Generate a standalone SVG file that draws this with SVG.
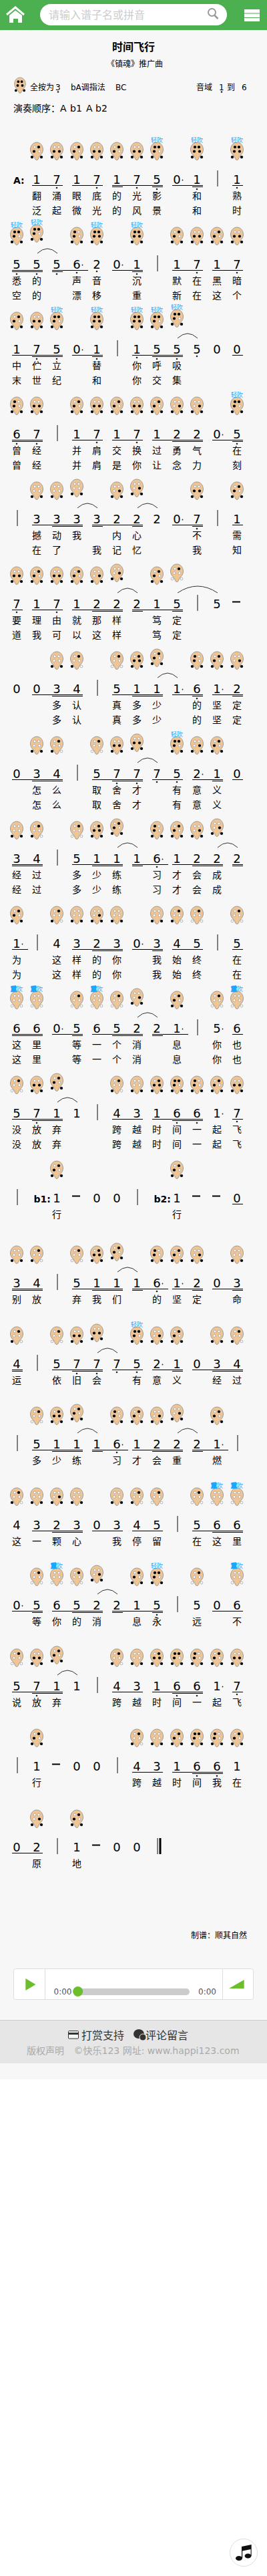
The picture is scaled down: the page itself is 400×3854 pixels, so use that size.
<svg xmlns="http://www.w3.org/2000/svg" width="400" height="3854" viewBox="0 0 400 3854">
<style>
text{font-family:"DejaVu Sans","Noto Sans CJK SC",sans-serif;fill:#000}
.n{font-size:18px;text-anchor:middle}
.l{font-size:14px;text-anchor:middle}
.lab{font-size:14px;font-weight:bold}
.q{font-size:9px;text-anchor:middle;fill:#1aa7ff}
.h{stroke:#1aa7ff;stroke-width:1.2px}
.u{stroke:#000;stroke-width:1;fill:none}
.dot{stroke:#222;stroke-width:2.6;stroke-linecap:round;fill:none}
.aug{stroke:#222;stroke-width:1.8;stroke-linecap:round;fill:none}
.bar{stroke:#808080;stroke-width:2;fill:none}
.dash{stroke:#000;stroke-width:2;fill:none}
.k{stroke:#000;stroke-width:4.2;stroke-linecap:round;fill:none}
.w{fill:#fff;stroke:#888;stroke-width:.6}
.s{font-size:12px}
.f{font-size:14px;fill:#aaa}
.g{font-size:16px;fill:#333}
.t{font-size:12px;fill:#555}
</style>
<defs>
<g id="o"><path d="M0 0C5.500 0 9.500 5 9.500 11C9.500 16 6 18.500 4 21C3 22.500 2.500 26.500 0 26.500C-2.500 26.500 -3 22.500 -4 21C-6 18.500 -9.500 16 -9.500 11C-9.500 5 -5.500 0 0 0Z" fill="#efc595" stroke="#888" stroke-width=".8"/><circle class="w" cx="-3" cy="7" r="1.900"/><circle class="w" cx="3" cy="7" r="1.900"/><circle class="w" cx="-4" cy="13.500" r="1.900"/><circle class="w" cx="4" cy="13.500" r="1.900"/><circle class="w" cx="-7" cy="22" r="1.900"/><circle class="w" cx="7" cy="22" r="1.900"/></g>
<g id="n1"><use href="#o"/><path class="k" d="M3 7h0M-4 13.500h0M-7 22h0M7 22h0"/></g>
<g id="n1h"><use href="#o"/><path class="k" d="M3 7h0M-4 13.500h0M4 13.500h0M-7 22h0M7 22h0"/></g>
<g id="l7"><use href="#o"/><path class="k" d="M-4 13.500h0M4 13.500h0M-7 22h0M7 22h0"/></g>
<g id="l6"><use href="#o"/><path class="k" d="M-3 7h0M-4 13.500h0M-7 22h0M7 22h0"/></g>
<g id="l5"><use href="#o"/><path class="k" d="M-3 7h0M3 7h0M-4 13.500h0M-7 22h0M7 22h0"/></g>
<g id="l1"><use href="#o"/><path class="k" d="M-3 7h0M3 7h0M-4 13.500h0M4 13.500h0M-7 22h0M7 22h0"/></g>
<g id="n2"><use href="#o"/><path class="k" d="M4 13.500h0M-7 22h0M7 22h0"/></g>
<g id="n3"><use href="#o"/><path class="k" d="M-7 22h0M7 22h0"/></g>
<g id="n4"><use href="#o"/><path class="k" d="M3 7h0M-7 22h0"/></g>
<g id="n5"><use href="#o"/><path class="k" d="M3 7h0"/></g>
<g id="n6"><use href="#o"/></g>
<path id="z" d="M1 39Q16 25 31 39" fill="none" stroke="#333" stroke-width="1"/>
</defs>
<rect width="400" height="3854" fill="#fff"/>
<rect y="45" width="400" height="3066" fill="#f7f7f7"/>
<g id="header">
<rect width="400" height="45" fill="#4caf50"/>
<path d="M10 22L23 11L36 22" fill="none" stroke="#fff" stroke-width="3"/>
<path d="M14 23L23 15.500L33 23V34H27V28H20V34H14Z" fill="#fff"/>
<rect x="60" y="6" width="280" height="32" rx="16" fill="#fff"/>
<text x="73" y="28" style="font-size:16px;fill:#ccc">请输入谱子名或拼音</text>
<circle cx="317.500" cy="18.500" r="5.500" fill="none" stroke="#999" stroke-width="2"/>
<path d="M321.500 23L326.500 28" stroke="#999" stroke-width="2.500"/>
<path d="M366 14H389V19.500H366ZM366 20.500H389V26H366ZM366 27H389V32H366Z" fill="#fff"/>
</g>
<g id="info">
<text x="200" y="76" text-anchor="middle" style="font-size:16px;font-weight:bold">时间飞行</text>
<text x="202" y="100" text-anchor="middle" style="font-size:12px">《镇魂》推广曲</text>
<use href="#l1" transform="translate(30,116) scale(.88)"/>
<text class="s" x="45" y="135">全按为</text><text class="s" x="83" y="135">3</text><path class="dot" d="M87 137.500h0"/>
<text class="s" x="106" y="135">bA调指法</text><text class="s" x="173" y="135">BC</text>
<text class="s" x="294" y="135">音域</text><text class="s" x="328" y="135">1</text><path class="dot" d="M332 137.500h0"/>
<text class="s" x="340" y="135">到</text><text class="s" x="362" y="135">6</text>
<text x="20" y="167" style="font-size:14px">演奏顺序：</text>
<text x="90" y="167" style="font-size:14px">A</text><text x="105" y="167" style="font-size:14px">b1</text><text x="129" y="167" style="font-size:14px">A</text><text x="143" y="167" style="font-size:14px">b2</text>
</g>
<g id="r1" transform="translate(0,213)">
<use href="#n1" x="55"/><use href="#l7" x="85"/><use href="#n1" x="115"/><use href="#l7" x="145"/><use href="#n1" x="175"/><use href="#l7" x="205"/><use href="#l5" x="235"/><use href="#l1" x="295"/><use href="#l1" x="355"/>
<text class="q" x="235" y="0">轻吹</text><text class="q" x="295" y="0">轻吹</text><text class="q" x="355" y="0">轻吹</text>
<text class="lab" x="20" y="62">A:</text>
<text class="n" y="62" x="55 85 115 145 175 205 235 265 295 355">1717175011</text>
<path class="aug" d="M273.500 56.500h0"/>
<path class="u" d="M48 64.500H94M108 64.500H154M168 64.500H244M258 64.500H304M348 64.500H364M168 66.500H184M228 66.500H244M288 66.500H304"/>
<path class="dot" d="M85 68h0M145 68h0M205 68h0M355 68h0M235 70h0M295 70h0"/>
<path class="bar" d="M326 42v24"/>
<text class="l" y="85" x="55 85 115 145 175 205 235 295 355">翻涌眼底的光影和熟</text>
<text class="l" y="107" x="55 85 115 145 175 205 235 295 355">泛起微光的风景和时</text>
</g>
<g id="r2" transform="translate(0,340)">
<use href="#l5" x="25"/><use href="#l5" x="55" y="-4"/><use href="#l6" x="115"/><use href="#l1" x="145"/><use href="#l1" x="205"/><use href="#n1" x="265"/><use href="#l7" x="295"/><use href="#n1" x="325"/><use href="#l7" x="355"/>
<text class="q" x="25" y="0">轻吹</text><text class="q" x="55" y="-4">轻吹</text><text class="q" x="145" y="0">轻吹</text><text class="q" x="205" y="0">轻吹</text>
<use href="#z" x="55"/>
<text class="n" y="62" x="25 55 85 115 145 175 205 265 295 325 355">55562011717</text>
<path class="aug" d="M123.500 56.500h0M183.500 56.500h0"/>
<path class="u" d="M18 64.500H64M78 64.500H132M168 64.500H214M258 64.500H304M318 64.500H364M18 66.500H64M78 66.500H94M198 66.500H214"/>
<path class="dot" d="M25 70h0M55 70h0M85 70h0M205 70h0M115 68h0M295 68h0M355 68h0M145 66h0"/>
<path class="bar" d="M236 42v24"/>
<text class="l" y="85" x="25 55 115 145 205 265 295 325 355">悉的声音沉默在黑暗</text>
<text class="l" y="107" x="25 55 115 145 205 265 295 325 355">空的漂移重新在这个</text>
</g>
<g id="r3" transform="translate(0,467)">
<use href="#n1" x="25"/><use href="#l7" x="55"/><use href="#l5" x="85"/><use href="#l1" x="145"/><use href="#l1" x="205"/><use href="#l5" x="235"/><use href="#l5" x="265" y="-4"/>
<text class="q" x="85" y="0">轻吹</text><text class="q" x="145" y="0">轻吹</text><text class="q" x="205" y="0">轻吹</text><text class="q" x="235" y="0">轻吹</text><text class="q" x="265" y="-4">轻吹</text>
<use href="#z" x="265"/>
<text class="n" y="62" x="25 55 85 115 145 205 235 265 295 325 355">17501155500</text>
<path class="aug" d="M123.500 56.500h0"/>
<path class="u" d="M18 64.500H94M108 64.500H154M198 64.500H274M348 64.500H364M48 66.500H94M138 66.500H154M228 66.500H274"/>
<path class="dot" d="M55 70h0M85 70h0M145 70h0M235 70h0M265 70h0M205 68h0M295 66h0"/>
<path class="bar" d="M176 42v24"/>
<text class="l" y="85" x="25 55 85 145 205 235 265">中伫立替你呼吸</text>
<text class="l" y="107" x="25 55 85 145 205 235 265">末世纪和你交集</text>
</g>
<g id="r4" transform="translate(0,594)">
<use href="#l6" x="25"/><use href="#l7" x="55"/><use href="#n1" x="115"/><use href="#l7" x="145"/><use href="#n1" x="175"/><use href="#l7" x="205"/><use href="#n1" x="235"/><use href="#n2" x="265"/><use href="#n2" x="295"/><use href="#l5" x="355"/>
<text class="q" x="355" y="0">轻吹</text>
<text class="n" y="62" x="25 55 115 145 175 205 235 265 295 325 355">67171712205</text>
<path class="aug" d="M333.500 56.500h0"/>
<path class="u" d="M18 64.500H64M108 64.500H154M168 64.500H214M228 64.500H304M318 64.500H364M18 66.500H64M258 66.500H304M348 66.500H364"/>
<path class="dot" d="M25 70h0M55 70h0M355 70h0M145 68h0M205 68h0"/>
<path class="bar" d="M86 42v24"/>
<text class="l" y="85" x="25 55 115 145 175 205 235 265 295 355">曾经并肩交换过勇气在</text>
<text class="l" y="107" x="25 55 115 145 175 205 235 265 295 355">曾经并肩是你让念力刻</text>
</g>
<g id="r5" transform="translate(0,721)">
<use href="#n3" x="55"/><use href="#n3" x="85"/><use href="#n3" x="115" y="-4"/><use href="#n2" x="175"/><use href="#n2" x="205" y="-4"/><use href="#l7" x="295"/><use href="#n1" x="355"/>
<use href="#z" x="115"/><use href="#z" x="205"/>
<text class="n" y="62" x="55 85 115 145 175 205 235 265 295 355">3333222071</text>
<path class="aug" d="M273.500 56.500h0"/>
<path class="u" d="M48 64.500H124M138 64.500H214M258 64.500H304M348 64.500H364M78 66.500H124M138 66.500H154M198 66.500H214M288 66.500H304"/>
<path class="dot" d="M295 70h0"/>
<path class="bar" d="M26 42v24M326 42v24"/>
<text class="l" y="85" x="55 85 115 175 205 295 355">撼动我内心不需</text>
<text class="l" y="107" x="55 85 145 175 205 295 355">在了我记忆我知</text>
</g>
<g id="r6" transform="translate(0,848)">
<use href="#l7" x="25"/><use href="#n1" x="55"/><use href="#l7" x="85"/><use href="#n1" x="115"/><use href="#n2" x="145"/><use href="#n2" x="175" y="-4"/><use href="#n1" x="235"/><use href="#n5" x="265" y="-4"/>
<use href="#z" x="175"/><path d="M266 39Q296 19 326 39" fill="none" stroke="#333"/>
<text class="n" y="62" x="25 55 85 115 145 175 205 235 265 325">7171222155</text>
<path class="dash" d="M348 52.500h12"/>
<path class="u" d="M18 64.500H34M48 64.500H94M108 64.500H184M198 64.500H274M138 66.500H184M198 66.500H214M258 66.500H274"/>
<path class="dot" d="M25 68h0M85 68h0"/>
<path class="bar" d="M296 42v24"/>
<text class="l" y="85" x="25 55 85 115 145 175 235 265">要理由就那样笃定</text>
<text class="l" y="107" x="25 55 85 115 145 175 235 265">道我可以这样笃定</text>
</g>
<g id="r7" transform="translate(0,975)">
<use href="#n3" x="85"/><use href="#n4" x="115"/><use href="#n5" x="175"/><use href="#n1h" x="205"/><use href="#n1" x="235" y="-4"/><use href="#l6" x="295"/><use href="#n1" x="325"/><use href="#n2" x="355"/>
<use href="#z" x="235"/>
<text class="n" y="62" x="25 55 85 115 175 205 235 265 295 325 355">00345111612</text>
<path class="aug" d="M273.500 56.500h0M333.500 56.500h0"/>
<path class="u" d="M48 64.500H124M168 64.500H244M258 64.500H304M318 64.500H364M78 66.500H124M198 66.500H244M288 66.500H304M348 66.500H364"/>
<path class="dot" d="M295 70h0"/>
<path class="bar" d="M146 42v24"/>
<text class="l" y="85" x="85 115 175 205 235 295 325 355">多认真多少的坚定</text>
<text class="l" y="107" x="85 115 175 205 235 295 325 355">多认真多少的坚定</text>
</g>
<g id="r8" transform="translate(0,1102)">
<use href="#n3" x="55"/><use href="#n4" x="85"/><use href="#n5" x="145"/><use href="#l7" x="175"/><use href="#l7" x="205" y="-4"/><use href="#l5" x="265"/><use href="#n2" x="295"/><use href="#n1" x="325"/>
<text class="q" x="265" y="0">轻吹</text>
<use href="#z" x="205"/>
<text class="n" y="62" x="25 55 85 145 175 205 235 265 295 325 355">03457775210</text>
<path class="aug" d="M303.500 56.500h0"/>
<path class="u" d="M18 64.500H94M138 64.500H214M228 64.500H274M288 64.500H334M348 64.500H364M48 66.500H94M168 66.500H214M318 66.500H334"/>
<path class="dot" d="M175 70h0M205 70h0M235 68h0M265 68h0"/>
<path class="bar" d="M116 42v24"/>
<text class="l" y="85" x="55 85 145 175 205 265 295 325">怎么取舍才有意义</text>
<text class="l" y="107" x="55 85 145 175 205 265 295 325">怎么取舍才有意义</text>
</g>
<g id="r9" transform="translate(0,1229)">
<use href="#n3" x="25"/><use href="#n4" x="55"/><use href="#n5" x="115"/><use href="#n1h" x="145"/><use href="#n1" x="175" y="-4"/><use href="#l6" x="235"/><use href="#n1" x="265"/><use href="#n2" x="295"/><use href="#n2" x="325" y="-4"/>
<use href="#z" x="175"/><use href="#z" x="325"/>
<text class="n" y="62" x="25 55 115 145 175 205 235 265 295 325 355">34511161222</text>
<path class="aug" d="M243.500 56.500h0"/>
<path class="u" d="M18 64.500H64M108 64.500H184M198 64.500H252M258 64.500H334M348 64.500H364M18 66.500H64M138 66.500H184M198 66.500H214M288 66.500H334M348 66.500H364"/>
<path class="dot" d="M235 68h0"/>
<path class="bar" d="M86 42v24"/>
<text class="l" y="85" x="25 55 115 145 175 235 265 295 325">经过多少练习才会成</text>
<text class="l" y="107" x="25 55 115 145 175 235 265 295 325">经过多少练习才会成</text>
</g>
<g id="r10" transform="translate(0,1356)">
<use href="#n1" x="25"/><use href="#n4" x="85"/><use href="#n3" x="115"/><use href="#n2" x="145"/><use href="#n3" x="175"/><use href="#n3" x="235"/><use href="#n4" x="265"/><use href="#n5" x="295"/><use href="#n5" x="355"/>
<text class="n" y="62" x="25 85 115 145 175 205 235 265 295 355">1432303455</text>
<path class="aug" d="M33.500 56.500h0M213.500 56.500h0"/>
<path class="u" d="M18 64.500H42M108 64.500H184M198 64.500H244M258 64.500H304M348 64.500H364M138 66.500H184M228 66.500H244"/>
<path class="bar" d="M56 42v24M326 42v24"/>
<text class="l" y="85" x="25 85 115 145 175 235 265 295 355">为这样的你我始终在</text>
<text class="l" y="107" x="25 85 115 145 175 235 265 295 355">为这样的你我始终在</text>
</g>
<g id="r11" transform="translate(0,1483)">
<use href="#n6" x="25"/><use href="#n6" x="55"/><use href="#n5" x="115"/><use href="#n6" x="145"/><use href="#n5" x="175"/><use href="#n2" x="205" y="-4"/><use href="#n1" x="265"/><use href="#n5" x="325"/><use href="#n6" x="355"/>
<text class="q" x="25" y="0"><tspan class="h">重</tspan>吹</text><text class="q" x="55" y="0"><tspan class="h">重</tspan>吹</text><text class="q" x="145" y="0"><tspan class="h">重</tspan>吹</text><text class="q" x="355" y="0"><tspan class="h">重</tspan>吹</text>
<use href="#z" x="205"/>
<text class="n" y="62" x="25 55 85 115 145 175 205 235 265 325 355">66056522156</text>
<path class="aug" d="M93.500 56.500h0M273.500 56.500h0M333.500 56.500h0"/>
<path class="u" d="M18 64.500H64M78 64.500H124M138 64.500H214M228 64.500H282M348 64.500H364M18 66.500H64M108 66.500H124M168 66.500H214M228 66.500H244"/>
<path class="bar" d="M296 42v24"/>
<text class="l" y="85" x="25 55 115 145 175 205 265 325 355">这里等一个消息你也</text>
<text class="l" y="107" x="25 55 115 145 175 205 265 325 355">这里等一个消息你也</text>
</g>
<g id="r12" transform="translate(0,1610)">
<use href="#n5" x="25"/><use href="#l7" x="55"/><use href="#n1" x="85" y="-4"/><use href="#n4" x="175"/><use href="#n3" x="205"/><use href="#n1h" x="235"/><use href="#l5" x="265"/><use href="#l6" x="295"/><use href="#n1" x="325"/><use href="#l7" x="355"/>
<use href="#z" x="85"/>
<text class="n" y="62" x="25 55 85 115 175 205 235 265 295 325 355">57114316617</text>
<path class="aug" d="M333.500 56.500h0"/>
<path class="u" d="M18 64.500H94M168 64.500H214M228 64.500H304M348 64.500H364M48 66.500H94M258 66.500H304"/>
<path class="dot" d="M55 70h0M265 70h0M295 70h0M355 68h0"/>
<path class="bar" d="M146 42v24"/>
<text class="l" y="85" x="25 55 85 175 205 235 265 295 325 355">没放弃跨越时间一起飞</text>
<text class="l" y="107" x="25 55 85 175 205 235 265 295 325 355">没放弃跨越时间一起飞</text>
</g>
<g id="r13" transform="translate(0,1737)">
<use href="#n1" x="85"/><use href="#n1" x="265"/>
<text class="lab" x="50.500" y="62">b1:</text><text class="lab" x="230.500" y="62">b2:</text>
<text class="n" y="62" x="85 145 175 265 355">10010</text>
<path class="dash" d="M108 52.500h12M288 52.500h12M318 52.500h12"/>
<path class="u" d="M348 64.500H364"/>
<path class="bar" d="M26 42v24M206 42v24"/>
<text class="l" y="85" x="85 265">行行</text>
</g>
<g id="r14" transform="translate(0,1864)">
<use href="#n3" x="25"/><use href="#n4" x="55"/><use href="#n5" x="115"/><use href="#n1h" x="145"/><use href="#n1" x="175" y="-4"/><use href="#l6" x="235"/><use href="#n1" x="265"/><use href="#n2" x="295"/><use href="#n3" x="355"/>
<use href="#z" x="175"/>
<text class="n" y="62" x="25 55 115 145 175 205 235 265 295 325 355">34511161203</text>
<path class="aug" d="M243.500 56.500h0M273.500 56.500h0"/>
<path class="u" d="M18 64.500H64M108 64.500H184M198 64.500H252M258 64.500H304M318 64.500H364M18 66.500H64M138 66.500H184M198 66.500H214M288 66.500H304M348 66.500H364"/>
<path class="dot" d="M235 68h0"/>
<path class="bar" d="M86 42v24"/>
<text class="l" y="85" x="25 55 115 145 175 235 265 295 355">别放弃我们的坚定命</text>
</g>
<g id="r15" transform="translate(0,1985)">
<use href="#n4" x="25"/><use href="#n5" x="85"/><use href="#l7" x="115"/><use href="#l7" x="145" y="-4"/><use href="#l5" x="205"/><use href="#n2" x="235"/><use href="#n1" x="265"/><use href="#n3" x="325"/><use href="#n4" x="355"/>
<text class="q" x="205" y="0">轻吹</text>
<use href="#z" x="145"/>
<text class="n" y="62" x="25 85 115 145 175 205 235 265 295 325 355">45777521034</text>
<path class="aug" d="M243.500 56.500h0"/>
<path class="u" d="M18 64.500H34M78 64.500H154M168 64.500H214M228 64.500H274M288 64.500H364M18 66.500H34M108 66.500H154M258 66.500H274M318 66.500H364"/>
<path class="dot" d="M115 70h0M145 70h0M175 68h0M205 68h0"/>
<path class="bar" d="M56 42v24"/>
<text class="l" y="85" x="25 85 115 145 205 235 265 325 355">运依旧会有意义经过</text>
</g>
<g id="r16" transform="translate(0,2105)">
<use href="#n5" x="55"/><use href="#n1h" x="85"/><use href="#n1" x="115" y="-4"/><use href="#l6" x="175"/><use href="#n1" x="205"/><use href="#n2" x="235"/><use href="#n2" x="265" y="-4"/><use href="#n1" x="325"/>
<use href="#z" x="115"/><use href="#z" x="265"/>
<text class="n" y="62" x="55 85 115 145 175 205 235 265 295 325">5111612221</text>
<path class="aug" d="M183.500 56.500h0M333.500 56.500h0"/>
<path class="u" d="M48 64.500H124M138 64.500H192M198 64.500H274M288 64.500H342M78 66.500H124M138 66.500H154M228 66.500H274M288 66.500H304"/>
<path class="dot" d="M175 68h0"/>
<path class="bar" d="M26 42v24M356 42v24"/>
<text class="l" y="85" x="55 85 115 175 205 235 265 325">多少练习才会重燃</text>
</g>
<g id="r17" transform="translate(0,2226)">
<use href="#n4" x="25"/><use href="#n3" x="55"/><use href="#n2" x="85"/><use href="#n3" x="115"/><use href="#n3" x="175"/><use href="#n4" x="205"/><use href="#n5" x="235"/><use href="#n5" x="295"/><use href="#n6" x="325"/><use href="#n6" x="355"/>
<text class="q" x="325" y="0"><tspan class="h">重</tspan>吹</text><text class="q" x="355" y="0"><tspan class="h">重</tspan>吹</text>
<text class="n" y="62" x="25 55 85 115 145 175 205 235 295 325 355">43230345566</text>
<path class="u" d="M48 64.500H124M138 64.500H184M198 64.500H244M288 64.500H364M78 66.500H124M318 66.500H364"/>
<path class="bar" d="M266 42v24"/>
<text class="l" y="85" x="25 55 85 115 175 205 235 295 325 355">这一颗心我停留在这里</text>
</g>
<g id="r18" transform="translate(0,2346)">
<use href="#n5" x="55"/><use href="#n6" x="85"/><use href="#n5" x="115"/><use href="#n2" x="145" y="-4"/><use href="#n1" x="205"/><use href="#l5" x="235"/><use href="#n5" x="295"/><use href="#n6" x="355"/>
<text class="q" x="85" y="0"><tspan class="h">重</tspan>吹</text><text class="q" x="235" y="0">轻吹</text><text class="q" x="355" y="0"><tspan class="h">重</tspan>吹</text>
<use href="#z" x="145"/>
<text class="n" y="62" x="25 55 85 115 145 175 205 235 295 325 355">05652215506</text>
<path class="aug" d="M33.500 56.500h0"/>
<path class="u" d="M18 64.500H64M78 64.500H154M168 64.500H244M318 64.500H364M48 66.500H64M108 66.500H154M168 66.500H184M228 66.500H244"/>
<path class="dot" d="M235 70h0"/>
<path class="bar" d="M266 42v24"/>
<text class="l" y="85" x="55 85 115 145 205 235 295 355">等你的消息永远不</text>
</g>
<g id="r19" transform="translate(0,2467)">
<use href="#n5" x="25"/><use href="#l7" x="55"/><use href="#n1" x="85" y="-4"/><use href="#n4" x="175"/><use href="#n3" x="205"/><use href="#n1h" x="235"/><use href="#l5" x="265"/><use href="#l6" x="295"/><use href="#n1" x="325"/><use href="#l7" x="355"/>
<use href="#z" x="85"/>
<text class="n" y="62" x="25 55 85 115 175 205 235 265 295 325 355">57114316617</text>
<path class="aug" d="M333.500 56.500h0"/>
<path class="u" d="M18 64.500H94M168 64.500H214M228 64.500H304M348 64.500H364M48 66.500H94M258 66.500H304"/>
<path class="dot" d="M55 70h0M265 70h0M295 70h0M355 68h0"/>
<path class="bar" d="M146 42v24"/>
<text class="l" y="85" x="25 55 85 175 205 235 265 295 325 355">说放弃跨越时间一起飞</text>
</g>
<g id="r20" transform="translate(0,2587)">
<use href="#n1" x="55"/><use href="#n4" x="205"/><use href="#n3" x="235"/><use href="#n1" x="265"/><use href="#l5" x="295"/><use href="#l6" x="325"/><use href="#n1" x="355"/>
<text class="n" y="62" x="55 115 145 205 235 265 295 325 355">100431661</text>
<path class="dash" d="M78 52.500h12"/>
<path class="u" d="M198 64.500H244M258 64.500H334M288 66.500H334"/>
<path class="dot" d="M295 70h0M325 70h0"/>
<path class="bar" d="M26 42v24M176 42v24"/>
<text class="l" y="85" x="55 205 235 265 295 325 355">行跨越时间我在</text>
</g>
<g id="r21" transform="translate(0,2708)">
<use href="#n2" x="55"/><use href="#n1" x="115"/>
<text class="n" y="62" x="25 55 115 175 205">02100</text>
<path class="dash" d="M138 52.500h12"/>
<path class="u" d="M18 64.500H64"/>
<path class="bar" d="M86 42v24M236 42v24"/>
<path d="M240 42v24" stroke="#000" stroke-width="3"/>
<text class="l" y="85" x="55 115">原地</text>
</g>
<text id="maker" x="286" y="2900" style="font-size:12px">制谱：顺其自然</text>
<g id="player">
<rect x="20.500" y="2945.500" width="359" height="46" rx="3" fill="#fff" stroke="#ddd"/>
<path d="M67.500 2946V2991M333.500 2946V2991" stroke="#ddd"/>
<path d="M38.300 2960L53.500 2969L38.300 2978Z" fill="#6cbe2d"/>
<text class="t" x="80.500" y="2984">0:00</text><text class="t" x="297" y="2984">0:00</text>
<rect x="110" y="2975" width="174" height="10" rx="5" fill="#ccc"/>
<circle cx="116.700" cy="2979.500" r="7.500" fill="#6cbe2d"/>
<path d="M343 2975L365.700 2962V2975Z" fill="#6cbe2d"/>
</g>
<g id="footer">
<rect y="3022" width="400" height="65" fill="#e6e6e6"/>
<path d="M0 3022.500H400" stroke="#ccc"/>
<rect x="102.500" y="3038.500" width="15" height="11.500" rx="1" fill="#f4f4f4" stroke="#333"/>
<rect x="103" y="3041" width="14" height="3" fill="#333"/>
<ellipse cx="208" cy="3043" rx="8" ry="7" fill="#333"/>
<circle cx="214" cy="3048" r="5" fill="#333" stroke="#e6e6e6"/>
<text class="g" x="122" y="3051">打赏支持</text>
<text class="g" x="218" y="3051">评论留言</text>
<text class="f" x="40" y="3073">版权声明</text>
<text class="f" x="110.500" y="3073">©快乐123 网址: www.happi123.com</text>
</g>
<g id="music">
<circle cx="365" cy="3819" r="20.500" fill="#fff" stroke="#ddd" stroke-width="1"/>
<ellipse cx="358" cy="3827.500" rx="5" ry="3.500" fill="#111"/>
<ellipse cx="371.500" cy="3824" rx="5" ry="3.500" fill="#111"/>
<path d="M362 3810L376.700 3807V3824H375.600V3814L363.200 3816.500V3827H362Z" fill="#111"/>
</g>
</svg>
